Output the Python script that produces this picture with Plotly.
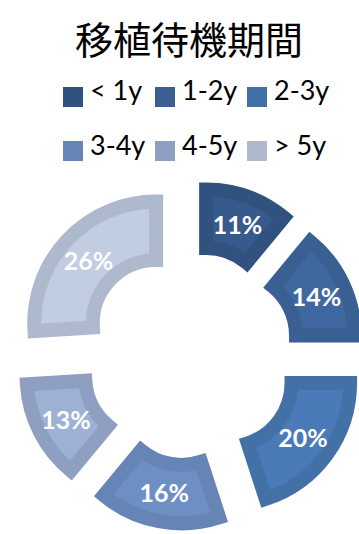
import plotly.graph_objects as go

# Waiting period before transplant, share of patients per bracket
labels = ["< 1y", "1-2y", "2-3y", "3-4y", "4-5y", "> 5y"]
values = [11, 14, 20, 16, 13, 26]
fill_colors = ["#365A8C", "#3F68A0", "#4A7AB7", "#6E8FC3", "#9CB1D4", "#C1CDE1"]
edge_colors = ["#31517F", "#3A5F93", "#4470A8", "#6684B5", "#8F9FC1", "#AEB9CD"]
title_text = "移植待機期間"

W, H = 359, 534

fig = go.Figure()
fig.add_trace(go.Pie(
    labels=labels,
    values=values,
    sort=False,
    direction="clockwise",
    rotation=0,
    hole=0.52,
    pull=0.384,
    marker=dict(colors=fill_colors, line=dict(color=edge_colors, width=14)),
    textinfo="percent",
    texttemplate="%{percent:.0%}",
    textposition="inside",
    insidetextorientation="horizontal",
    textfont=dict(family="Lato", size=25, color="white", weight="bold"),
    domain=dict(x=[0.06, 1.0], y=[0.018, 0.6506]),
    showlegend=False,
))

# Legend laid out in two rows of three swatches
sw = 20
cols_x = [63, 155, 247]
rows_y = [97, 151]
shapes = []
annotations = []
for i, (lab, col) in enumerate(zip(labels, edge_colors)):
    px = cols_x[i % 3]
    py = rows_y[i // 3]
    shapes.append(dict(
        type="rect", xref="paper", yref="paper",
        x0=px / W, x1=(px + sw) / W,
        y0=1 - (py + sw / 2) / H, y1=1 - (py - sw / 2) / H,
        fillcolor=col, line=dict(width=0),
    ))
    annotations.append(dict(
        text=lab, xref="paper", yref="paper",
        x=(px + sw + 5) / W, y=1 - (py - 7) / H,
        xanchor="left", yanchor="middle", showarrow=False,
        font=dict(family="Lato", size=27, color="#000000"),
    ))

annotations.append(dict(
    text=title_text, xref="paper", yref="paper",
    x=189 / W, y=1 - 37 / H, xanchor="center", yanchor="middle",
    showarrow=False,
    font=dict(family="Noto Sans CJK JP", size=38, color="#000000"),
))

fig.update_layout(
    width=W, height=H,
    margin=dict(l=0, r=0, t=0, b=0),
    paper_bgcolor="white",
    plot_bgcolor="white",
    shapes=shapes,
    annotations=annotations,
    uniformtext=dict(minsize=25, mode="show"),
)

# sharp corners on the slice outlines
sharp_corners = """
document.querySelectorAll('.slice path.surface').forEach(function(p) {
  p.style.setProperty('stroke-linejoin', 'miter', 'important');
  p.style.setProperty('stroke-miterlimit', '10', 'important');
});
"""

fig.write_html("out.html", post_script=sharp_corners)
